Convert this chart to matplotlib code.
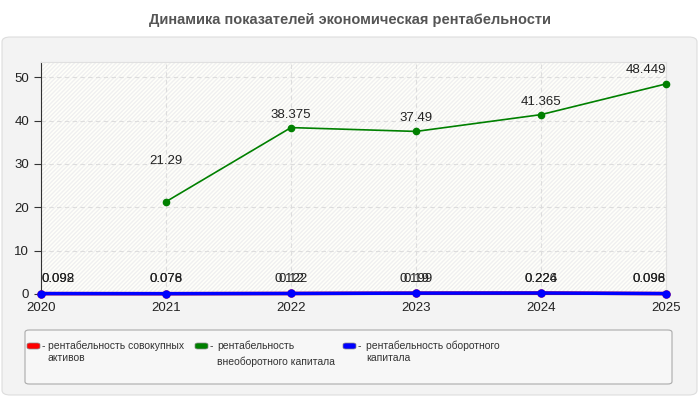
import matplotlib
matplotlib.use("Agg")
import matplotlib.pyplot as plt
from matplotlib.patches import FancyBboxPatch
import numpy as np

years = [2020, 2021, 2022, 2023, 2024, 2025]
total_assets = [0.092, 0.076, 0.12, 0.19, 0.224, 0.096]
noncurrent = [None, 21.29, 38.375, 37.49, 41.365, 48.449]
current = [0.098, 0.078, 0.122, 0.199, 0.226, 0.098]
series_names = ["рентабельность совокупных\nактивов",
                "рентабельность\nвнеоборотного капитала",
                "рентабельность оборотного\nкапитала"]
colors = ["#ff0000", "#008000", "#0000ff"]
title = "Динамика показателей экономическая рентабельности"

plt.rcParams['font.family'] = ['Liberation Sans', 'DejaVu Sans']
leg_size = 7.5

W, H = 700, 400
fig = plt.figure(figsize=(7, 4), dpi=100)
fig.patch.set_facecolor("white")

def fx(px):
    return px / W

def fy(py):
    return 1 - py / H

panel = FancyBboxPatch((fx(2), fy(395)), fx(695), (395 - 37) / H,
                       boxstyle="round,pad=0,rounding_size=0.012",
                       transform=fig.transFigure, facecolor="#f3f3f3",
                       edgecolor="#dddddd", linewidth=0.8, zorder=-5)
fig.patches.append(panel)

fig.text(0.5, fy(20), title, ha="center", va="center", fontsize=10.5,
         fontweight="bold", color="#555555")

ax = fig.add_axes([fx(41), fy(294), fx(666 - 41), (294 - 62) / H])
ax.set_zorder(2)
ax.set_facecolor("white")
ax.set_xlim(2020, 2025)
ax.set_ylim(0, 53.5)
ax.set_yticks([0, 10, 20, 30, 40, 50])
ax.set_xticks(years)
ax.grid(True, color="#dddddd", linestyle=(0, (4, 3)), linewidth=0.8)
ax.set_axisbelow(True)
ax.add_patch(plt.Rectangle((0, 0), 1, 1, transform=ax.transAxes,
                           facecolor="#fffffa", hatch="////////",
                           edgecolor="#f0f0f0", linewidth=0, zorder=0))
for s in ["top", "right"]:
    ax.spines[s].set_color("#e0e0e0")
ax.spines["left"].set_color("#333333")
ax.spines["bottom"].set_color("#333333")
ax.tick_params(axis="y", length=5, labelsize=9.5, colors="#333333")
ax.tick_params(axis="x", length=0, labelsize=9.5, pad=6, colors="#333333")
for lab in ax.get_xticklabels() + ax.get_yticklabels():
    lab.set_color("#222222")

x = np.array(years, dtype=float)
ax.plot(x, total_assets, color=colors[0], linewidth=2.5, marker="o",
        markersize=5, clip_on=False, zorder=3)
nc = np.array([np.nan if v is None else v for v in noncurrent], dtype=float)
ax.plot(x, nc, color=colors[1], linewidth=1.2, marker="o", markersize=4.5,
        clip_on=False, zorder=3)
ax.plot(x, current, color=colors[2], linewidth=2.5, marker="o",
        markersize=5, clip_on=False, zorder=4)

def fmt(v):
    return ("%g" % v)

def align(xi):
    return "left" if xi == years[0] else ("right" if xi == years[-1] else "center")

green_offsets = [6, 25, 5, 5, 5, 6]
for xi, v, off in zip(years, noncurrent, green_offsets):
    if v is None:
        continue
    ax.annotate(fmt(v), (xi, v), xytext=(0, off), textcoords="offset points",
                ha=align(xi), va="bottom", fontsize=9.5, color="#222222",
                annotation_clip=False)
for series in (total_assets, current):
    for xi, v in zip(years, series):
        ax.annotate(fmt(v), (xi, v), xytext=(0, 6), textcoords="offset points",
                    ha=align(xi), va="bottom", fontsize=9.5, color="#222222",
                    annotation_clip=False)

leg = FancyBboxPatch((fx(25), fy(384)), fx(647), (384 - 330) / H,
                     boxstyle="round,pad=0,rounding_size=0.006",
                     transform=fig.transFigure, facecolor="#f7f7f7",
                     edgecolor="#aaaaaa", linewidth=0.8, zorder=-4)
fig.patches.append(leg)

sw_x = [27, 195, 343]
tx_x = [48, 217, 366]
for i in range(3):
    sw = FancyBboxPatch((fx(sw_x[i]), fy(349)), fx(13), 6 / H,
                        boxstyle="round,pad=0,rounding_size=0.004",
                        transform=fig.transFigure, facecolor=colors[i],
                        edgecolor="#888888", linewidth=0.5, zorder=-3)
    fig.patches.append(sw)
    fig.text(fx(sw_x[i] + 15), fy(346), "-", ha="left", va="center",
             fontsize=leg_size, color="#333333")
    lines = series_names[i].split("\n")
    fig.text(fx(tx_x[i]), fy(346), lines[0], ha="left", va="center",
             fontsize=leg_size, color="#333333")
    y2 = 362 if i == 1 else 358
    fig.text(fx(tx_x[i]), fy(y2), lines[1], ha="left", va="center",
             fontsize=leg_size, color="#333333")

fig.savefig("out.png", dpi=100)
